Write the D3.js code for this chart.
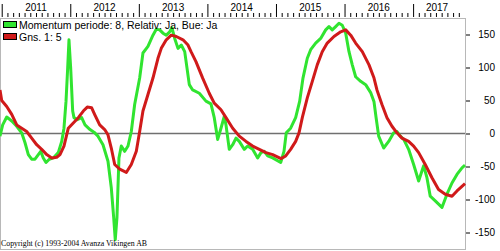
<!DOCTYPE html>
<html>
<head>
<meta charset="utf-8">
<script src="https://d3js.org/d3.v7.min.js"></script>
<style>
  body { margin: 0; background: #fff; }
  svg { display: block; font-family: "Liberation Sans", Arial, sans-serif; }
  .axis text { font-size: 10px; fill: #000; }
</style>
</head>
<body>
<svg id="chart"></svg>
<script>
// Momentum (green) - time as decimal years
const momentumYears = [2010.975, 2011.014, 2011.073, 2011.146, 2011.219, 2011.291, 2011.340, 2011.388, 2011.437, 2011.485,
  2011.534, 2011.569, 2011.606, 2011.646, 2011.694, 2011.752, 2011.825, 2011.875, 2011.908, 2011.938,
  2011.962, 2011.981, 2012.006, 2012.035, 2012.054, 2012.102, 2012.166, 2012.215, 2012.288, 2012.346,
  2012.404, 2012.477, 2012.550, 2012.598, 2012.633, 2012.656, 2012.681, 2012.710, 2012.744, 2012.794,
  2012.842, 2012.890, 2012.939, 2013.012, 2013.060, 2013.133, 2013.206, 2013.254, 2013.304, 2013.352,
  2013.400, 2013.450, 2013.483, 2013.523, 2013.571, 2013.619, 2013.669, 2013.736, 2013.785, 2013.882,
  2013.979, 2014.052, 2014.100, 2014.150, 2014.198, 2014.246, 2014.271, 2014.319, 2014.369, 2014.417,
  2014.465, 2014.538, 2014.587, 2014.660, 2014.733, 2014.781, 2014.829, 2014.879, 2014.952, 2015.069,
  2015.117, 2015.150, 2015.214, 2015.287, 2015.346, 2015.394, 2015.457, 2015.506, 2015.579, 2015.652,
  2015.725, 2015.773, 2015.821, 2015.871, 2015.919, 2015.967, 2016.017, 2016.065, 2016.113, 2016.162,
  2016.235, 2016.308, 2016.381, 2016.430, 2016.459, 2016.498, 2016.571, 2016.644, 2016.717, 2016.765,
  2016.813, 2016.863, 2016.935, 2017.008, 2017.081, 2017.154, 2017.202, 2017.250, 2017.323, 2017.421,
  2017.494, 2017.567, 2017.640, 2017.713, 2017.757];
const momentumValues = [-4, 13, 25, 19, 11, 1, -14, -32, -39, -39,
  -32, -27, -37, -44, -39, -37, -29, -12, 8, 49,
  99, 142, 99, 34, 24, 21, 24, 13, 6, 2,
  -4, -17, -42, -82, -127, -161, -127, -37, -19, -27,
  -19, 3, 44, 84, 122, 132, 149, 158, 157, 152,
  149, 154, 160, 144, 129, 134, 124, 74, 66, 61,
  49, 45, 24, -9, 8, 26, 13, -24, -17, -7,
  -12, -24, -19, -24, -37, -29, -27, -34, -37, -44,
  -27, 1, 8, 24, 49, 84, 114, 127, 137, 144,
  157, 162, 157, 162, 167, 164, 152, 124, 104, 86,
  79, 74, 62, 48, 25, -4, -22, -12, 1, 3,
  -4, -9, -24, -47, -72, -49, -67, -95, -102, -112,
  -92, -75, -62, -52, -48];

// Gns. 1: 5 (red)
const avgYears = [2010.975, 2011.000, 2011.073, 2011.146, 2011.219, 2011.291, 2011.364, 2011.437, 2011.510, 2011.583,
  2011.656, 2011.729, 2011.802, 2011.850, 2011.908, 2011.971, 2012.044, 2012.117, 2012.190, 2012.248,
  2012.312, 2012.360, 2012.429, 2012.502, 2012.550, 2012.598, 2012.648, 2012.721, 2012.817, 2012.890,
  2012.963, 2013.012, 2013.060, 2013.133, 2013.206, 2013.279, 2013.327, 2013.400, 2013.473, 2013.546,
  2013.644, 2013.717, 2013.761, 2013.833, 2013.931, 2014.027, 2014.100, 2014.198, 2014.271, 2014.369,
  2014.465, 2014.563, 2014.660, 2014.757, 2014.854, 2014.952, 2015.073, 2015.142, 2015.214, 2015.287,
  2015.336, 2015.384, 2015.457, 2015.530, 2015.602, 2015.675, 2015.748, 2015.846, 2015.944, 2016.017,
  2016.090, 2016.162, 2016.259, 2016.357, 2016.430, 2016.473, 2016.546, 2016.619, 2016.692, 2016.765,
  2016.838, 2016.935, 2017.008, 2017.081, 2017.177, 2017.275, 2017.371, 2017.469, 2017.567, 2017.640,
  2017.713, 2017.757];
const avgValues = [66, 50, 41, 29, 13, 8, 3, -7, -17, -24,
  -32, -37, -36, -32, -19, 8, 16, 24, 34, 40,
  39, 28, 13, 6, -2, -22, -47, -54, -59, -47,
  -27, 3, 34, 59, 84, 114, 129, 142, 149, 147,
  142, 134, 124, 109, 84, 61, 46, 36, 24, 8,
  -4, -12, -19, -24, -29, -32, -38, -34, -24, -12,
  1, 24, 54, 79, 104, 124, 137, 147, 154, 157,
  149, 137, 124, 104, 84, 66, 44, 24, 11, 1,
  -7, -12, -19, -29, -47, -67, -85, -92, -95, -87,
  -80, -76];

const yearLabels = ["2011", "2012", "2013", "2014", "2015", "2016", "2017"];
const yTickValues = [150, 100, 50, 0, -50, -100, -150];
const legendLabels = ["Momentum periode: 8, Relativ: Ja, Bue: Ja", "Gns. 1: 5"];
const copyrightText = "Copyright (c) 1993-2004 Avanza Vikingen AB";

class MomentumChart {
  constructor(_config) {
    this.config = {
      parentElement: _config.parentElement,
      containerWidth: _config.containerWidth || 500,
      containerHeight: _config.containerHeight || 251,
      plot: {left: 0, right: 465, top: 18, bottom: 249}
    };
    this.initVis();
  }

  initVis() {
    let vis = this;
    const p = vis.config.plot;

    vis.svg = d3.select(vis.config.parentElement)
      .attr('width', vis.config.containerWidth)
      .attr('height', vis.config.containerHeight);

    vis.xScale = d3.scaleLinear()
      .domain([2010.975, 2017.757])
      .range([p.left, p.right]);

    vis.yScale = d3.scaleLinear()
      .domain([-175, 175])
      .range([p.bottom, p.top]);

    vis.updateVis();
  }

  updateVis() {
    let vis = this;
    vis.greenData = momentumYears.map((t, i) => ({t: t, v: momentumValues[i]}));
    vis.redData = avgYears.map((t, i) => ({t: t, v: avgValues[i]}));

    vis.line = d3.line()
      .x(d => vis.xScale(d.t))
      .y(d => vis.yScale(d.v));

    // monthly minor ticks, yearly major ticks
    vis.years = yearLabels.map(d => +d);
    vis.months = d3.range(0, 12 * 7).map(m => 2011 + m / 12)
      .filter(m => vis.xScale(m) <= 461 && m % 1 !== 0);

    vis.renderVis();
  }

  renderVis() {
    let vis = this;
    const p = vis.config.plot;

    // plot frame
    vis.svg.append('rect')
      .attr('x', p.left + 0.5)
      .attr('y', p.top + 0.5)
      .attr('width', p.right - p.left)
      .attr('height', p.bottom - p.top)
      .attr('fill', 'none')
      .attr('stroke', '#b8b8b8');

    // zero line
    vis.svg.append('line')
      .attr('x1', p.left).attr('x2', p.right)
      .attr('y1', vis.yScale(0)).attr('y2', vis.yScale(0))
      .attr('stroke', '#707070')
      .attr('stroke-width', 1.3);

    // top time axis
    const minorAxis = d3.axisTop(vis.xScale).tickValues(vis.months).tickSize(4).tickFormat('');
    const majorAxis = d3.axisTop(vis.xScale).tickValues(vis.years).tickSize(13).tickFormat('');
    const axTop = vis.svg.append('g').attr('class', 'axis x-axis').attr('transform', 'translate(0,17)');
    axTop.append('g').call(minorAxis);
    axTop.append('g').call(majorAxis);
    axTop.selectAll('.domain').remove();
    axTop.selectAll('line').attr('stroke', '#000');

    vis.svg.append('g').attr('class', 'axis')
      .selectAll('text')
      .data(vis.years)
      .join('text')
      .attr('x', d => (vis.xScale(d) + Math.min(vis.xScale(d + 1), 461)) / 2)
      .attr('y', 11)
      .attr('text-anchor', 'middle')
      .text(d => d);

    // right value axis
    const yAxis = d3.axisRight(vis.yScale).tickValues(yTickValues).tickSize(4).tickPadding(2);
    const axRight = vis.svg.append('g').attr('class', 'axis y-axis')
      .attr('transform', `translate(${p.right + 1},0)`)
      .call(yAxis);
    axRight.select('.domain').remove();
    axRight.selectAll('line').attr('stroke', '#000');
    axRight.selectAll('text')
      .attr('x', 29)
      .attr('text-anchor', 'end')
      .text(d => d < 0 ? '-' + Math.abs(d) : d);

    // series
    vis.svg.append('path')
      .datum(vis.greenData)
      .attr('class', 'chart-line')
      .attr('d', vis.line)
      .attr('fill', 'none')
      .attr('stroke', '#30e430')
      .attr('stroke-width', 3)
      .attr('stroke-linejoin', 'round');

    vis.svg.append('path')
      .datum(vis.redData)
      .attr('class', 'chart-line')
      .attr('d', vis.line)
      .attr('fill', 'none')
      .attr('stroke', '#d01a1a')
      .attr('stroke-width', 3)
      .attr('stroke-linejoin', 'round');

    // legend
    const legendColors = ['#30e430', '#d01a1a'];
    const legend = vis.svg.append('g').attr('class', 'legend');
    legend.selectAll('rect')
      .data(legendLabels)
      .join('rect')
      .attr('x', 3.5)
      .attr('y', (d, i) => 21.5 + i * 12)
      .attr('width', 13)
      .attr('height', 6)
      .attr('fill', (d, i) => legendColors[i])
      .attr('stroke', '#000');
    legend.selectAll('text')
      .data(legendLabels)
      .join('text')
      .attr('x', 19)
      .attr('y', (d, i) => 28.5 + i * 12)
      .attr('font-size', '10.5px')
      .attr('fill', '#000')
      .text(d => d);

    // copyright
    vis.svg.append('text')
      .attr('x', 1)
      .attr('y', 246)
      .attr('font-family', '"Liberation Serif", "Times New Roman", serif')
      .attr('font-size', '8px')
      .attr('textLength', 146)
      .attr('lengthAdjust', 'spacingAndGlyphs')
      .attr('fill', '#000')
      .text(copyrightText);
  }
}

new MomentumChart({parentElement: '#chart'});
</script>
</body>
</html>
